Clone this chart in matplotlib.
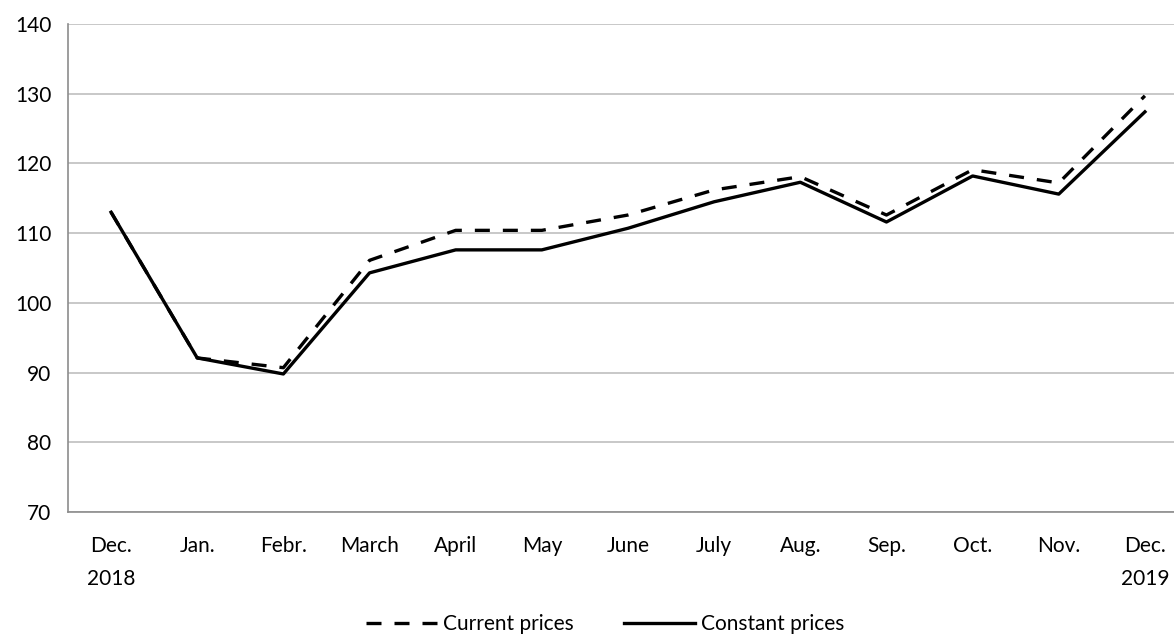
import numpy as np
import matplotlib.pyplot as plt

plt.rcParams['font.family'] = ['Lato', 'DejaVu Sans']

months = ['Dec.\n2018', 'Jan.', 'Febr.', 'March', 'April', 'May', 'June',
          'July', 'Aug.', 'Sep.', 'Oct.', 'Nov.', 'Dec.\n2019']
current = [113.0, 92.1, 90.7, 106.1, 110.4, 110.4, 112.6, 116.2, 118.1,
           112.6, 119.1, 117.2, 129.7]
constant = [113.0, 92.1, 89.8, 104.3, 107.6, 107.6, 110.7, 114.5, 117.3,
            111.6, 118.2, 115.6, 127.4]

fig = plt.figure(figsize=(11.74, 6.36), dpi=100)
# plot area runs past the right edge, as in the original
ax = fig.add_axes([68/1174, (636-512)/636, (1188-68)/1174, 488/636])

x = np.arange(len(months))
ax.plot(x, current, color='black', lw=2.4, dashes=(4.5, 3.9),
        label='Current prices')
ax.plot(x, constant, color='black', lw=2.4, label='Constant prices')

ax.set_xlim(-0.5, len(months) - 0.5)
ax.set_ylim(70, 140)
ax.set_yticks(range(70, 141, 10))
ax.set_xticks(x)
ax.set_xticklabels(months, linespacing=1.85, va='top')
ax.tick_params(axis='both', length=0, labelsize=15, colors='black')
ax.tick_params(axis='y', pad=12)
ax.tick_params(axis='x', pad=17)

ax.grid(axis='y', color='#BFBFBF', lw=1.2)
ax.set_axisbelow(True)
for s in ['top', 'right']:
    ax.spines[s].set_visible(False)
ax.spines['left'].set_color('#8C8C8C')
ax.spines['bottom'].set_color('#8C8C8C')
ax.spines['left'].set_linewidth(1.2)
ax.spines['bottom'].set_linewidth(1.2)

fig.legend(loc='center', bbox_to_anchor=(605/1174, 1 - 624/636), ncol=2,
           frameon=False, fontsize=15, handlelength=3.4, columnspacing=2.4,
           handletextpad=0.3)

fig.savefig('out.png', dpi=100)
